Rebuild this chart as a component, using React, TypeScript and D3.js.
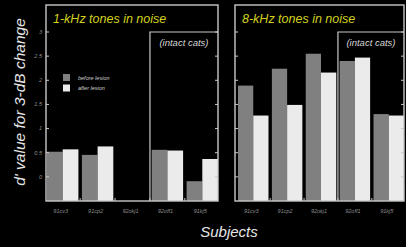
import React from 'react';
import * as d3 from 'd3';

// subjects (x axis)
const subjects = ['91cv3', '91cp2', '92okj1', '92off1', '91kj5'];

// d' values, 1-kHz tones in noise (null = no data)
const before1k = [0.52, 0.455, null, 0.56, -0.09];
const after1k = [0.57, 0.63, null, 0.545, 0.37];

// d' values, 8-kHz tones in noise
const before8k = [1.89, 2.24, 2.55, 2.4, 1.3];
const after8k = [1.27, 1.49, 2.16, 2.47, 1.27];

const yTicks = [0, 0.5, 1, 1.5, 2, 2.5, 3];

const W = 406;
const H = 247;
const FONT = '"Liberation Sans", Arial, sans-serif';
const BEFORE = '#808080';
const AFTER = '#ebebeb';
const FRAME = '#c8c8c8';

const y = d3.scaleLinear().domain([-0.5, 3]).range([201, 32]);
const frameTop = 5;
const baseY = y(-0.5);

type PanelProps = {
  x0: number;
  x1: number;
  barStart: number;
  title: string;
  before: (number | null)[];
  after: (number | null)[];
  showLabels: boolean;
};

const Panel = ({ x0, x1, barStart, title, before, after, showLabels }: PanelProps) => {
  const x = d3.scaleBand<string>().domain(subjects).range([barStart, x1]).paddingInner(0.1).paddingOuter(0);
  const half = x.bandwidth() / 2;
  const step = x.step();
  // boundary between groups 3 and 4 -> "intact cats" box
  const boxX = (x(subjects[3]) as number) - (step - x.bandwidth()) / 2;
  const gaps = subjects.slice(1).map(s => (x(s) as number) - (step - x.bandwidth()) / 2);

  return (
    <g>
      {subjects.map((s, i) => (
        <g key={s}>
          {before[i] !== null && (
            <rect x={x(s)} y={y(before[i] as number)} width={half}
              height={baseY - y(before[i] as number)} fill={BEFORE} />
          )}
          {after[i] !== null && (
            <rect x={(x(s) as number) + half} y={y(after[i] as number)} width={half}
              height={baseY - y(after[i] as number)} fill={AFTER} />
          )}
          <text x={(x(s) as number) + x.bandwidth() / 2 - 2} y={213} fontSize={5.5}
            fontStyle="italic" fill="#8e8e8e" textAnchor="middle" fontFamily={FONT}>{s}</text>
        </g>
      ))}

      {/* frame */}
      <rect x={x0} y={frameTop} width={x1 - x0} height={baseY - frameTop}
        fill="none" stroke={FRAME} strokeWidth={1.4} />

      {/* y ticks on both sides */}
      {yTicks.map(t => (
        <g key={t}>
          <line x1={x0} x2={x0 + 3} y1={y(t)} y2={y(t)} stroke={FRAME} strokeWidth={1} />
          <line x1={x1} x2={x1 - 3} y1={y(t)} y2={y(t)} stroke={FRAME} strokeWidth={1} />
          {showLabels && (
            <text x={x0 - 4} y={y(t)} dy="0.35em" fontSize={5.5} fontStyle="italic"
              fill="#8e8e8e" textAnchor="end" fontFamily={FONT}>{t}</text>
          )}
        </g>
      ))}

      {/* small ticks between groups */}
      {gaps.map((g, i) => (
        <line key={i} x1={g} x2={g} y1={baseY} y2={baseY - 3} stroke={FRAME} strokeWidth={1} />
      ))}

      {/* intact cats box */}
      <path d={`M${boxX},${baseY}V${y(3)}H${x1}`} fill="none" stroke={FRAME} strokeWidth={1.2} />
      <text x={(boxX + x1) / 2} y={46} fontSize={9.5} fontStyle="italic" fill="#d6d6d6"
        textAnchor="middle" fontFamily={FONT}>(intact cats)</text>

      <text x={x0 + 7} y={23} fontSize={12.5} fontStyle="italic" fill="#d2d21e"
        fontFamily={FONT}>{title}</text>
    </g>
  );
};

const App = () => {
  return (
    <div style={{ position: 'fixed', left: 0, top: 0, width: W, height: H, background: '#000' }}>
      <svg width={W} height={H} style={{ display: 'block', background: '#000' }}>
        <Panel x0={46} x1={218} barStart={47} title="1-kHz tones in noise"
          before={before1k} after={after1k} showLabels={true} />
        <Panel x0={235} x1={404} barStart={238} title="8-kHz tones in noise"
          before={before8k} after={after8k} showLabels={false} />

        {/* legend */}
        <rect x={63} y={74} width={7} height={7} fill={BEFORE} />
        <rect x={63} y={84.5} width={7} height={7} fill={AFTER} />
        <text x={78} y={79.5} fontSize={5.5} fontStyle="italic" fill="#d0d0d0" fontFamily={FONT}>before lesion</text>
        <text x={78} y={90} fontSize={5.5} fontStyle="italic" fill="#d0d0d0" fontFamily={FONT}>after lesion</text>

        {/* axis titles */}
        <text transform="translate(25,102) rotate(-90)" fontSize={15.5} fontStyle="italic"
          fill="#e6e6e6" textAnchor="middle" fontFamily={FONT}>d&apos; value for 3-dB change</text>
        <text x={229} y={237} fontSize={15} fontStyle="italic" fill="#e6e6e6"
          textAnchor="middle" fontFamily={FONT}>Subjects</text>
      </svg>
    </div>
  );
};

export default App;
